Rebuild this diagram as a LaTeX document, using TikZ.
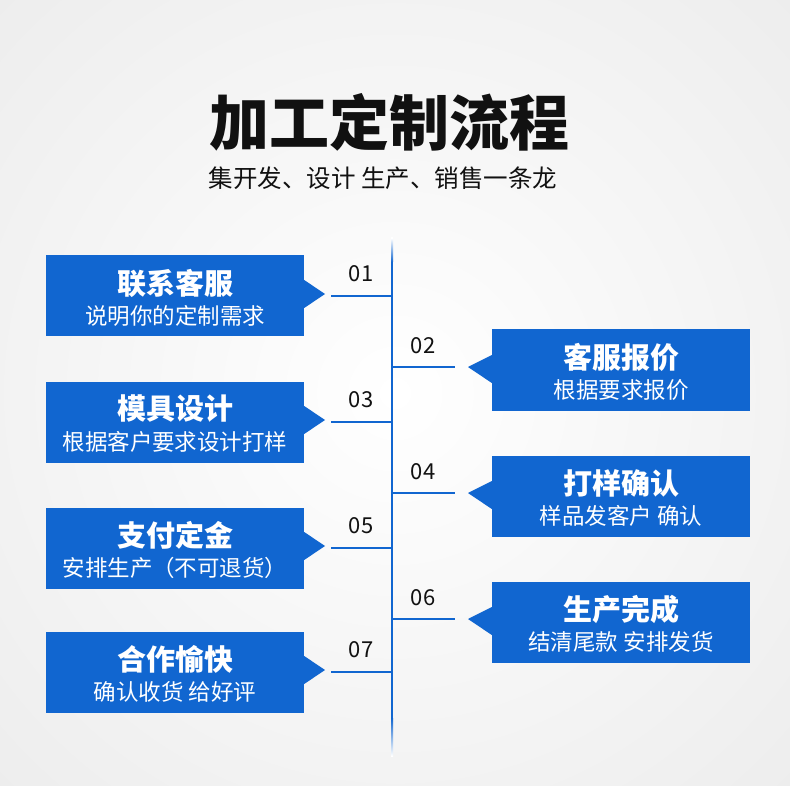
\documentclass[tikz,border=0pt]{standalone}
\usepackage{fontspec}
\setmainfont{Noto Sans CJK SC}
\newfontfamily\cjk{Noto Sans CJK SC}
\definecolor{flowblue}{HTML}{1166D0}
\definecolor{bgedge}{HTML}{ECECEC}
\definecolor{ink}{HTML}{111111}
\tikzset{
  stepbox/.style={fill=flowblue, minimum width=258pt, minimum height=81pt, inner sep=0pt, draw=none},
  boxtitle/.style={text=white, font=\cjk\bfseries\fontsize{29}{32}\selectfont, inner sep=0pt, anchor=center},
  boxsub/.style={text=white, font=\cjk\fontsize{22.5}{25}\selectfont, inner sep=0pt, anchor=center},
  numlabel/.style={text=ink, font=\cjk\fontsize{22}{24}\selectfont, inner sep=0pt, anchor=center},
  tick/.style={draw=flowblue, line width=2pt},
}
\begin{document}
\begin{tikzpicture}[x=1pt,y=-1pt]
\useasboundingbox (0,0) rectangle (790,786);
\shade[inner color=white, outer color=bgedge] (-200,-200) rectangle (990,986);
% titles
\node[text=ink, font=\cjk\bfseries\fontsize{60}{64}\selectfont, inner sep=0pt] (title) at (389,122) {加工定制流程};
\node[text=ink, font=\cjk\fontsize{24.5}{27}\selectfont, inner sep=0pt] (subtitle) at (383,178) {集开发、设计 生产、销售一条龙};
% spine
\shade[top color=white, bottom color=flowblue] (391,238) rectangle (393,262);
\fill[flowblue] (391,262) rectangle (393,718);
\shade[top color=flowblue, bottom color=white] (391,718) rectangle (393,756);
% left steps
\foreach \n/\y/\t/\s in {01/296/联系客服/说明你的定制需求, 03/422/模具设计/根据客户要求设计打样, 05/548/支付定金/安排生产（不可退货）, 07/672/合作愉快/确认收货 给好评}{
  \node[stepbox] (b\n) at (175,\y) {};
  \node[boxtitle] (bt\n) at ([yshift=13pt]b\n.center) {\t};
  \node[boxsub] (bs\n) at ([yshift=-20pt]b\n.center) {\s};
  \coordinate (tip\n) at (325,\y-2);
  \fill[flowblue] (b\n.east |- 0,\y-16) -- (tip\n) -- (b\n.east |- 0,\y+12) -- cycle;
  \coordinate (sp\n) at (392,\y);
  \coordinate (st\n) at (331,\y);
  \draw[tick] (st\n) -- (sp\n);
  \node[numlabel] (n\n) at (361,\y-22) {\n};
}
% right steps
\foreach \n/\y/\t/\s in {02/367/客服报价/根据要求报价, 04/493/打样确认/样品发客户 确认, 06/619/生产完成/结清尾款 安排发货}{
  \node[stepbox] (b\n) at (621,\y+3) {};
  \node[boxtitle] (bt\n) at ([yshift=13pt]b\n.center) {\t};
  \node[boxsub] (bs\n) at ([yshift=-20pt]b\n.center) {\s};
  \coordinate (tip\n) at (468,\y);
  \fill[flowblue] (b\n.west |- 0,\y-12) -- (tip\n) -- (b\n.west |- 0,\y+16) -- cycle;
  \coordinate (sp\n) at (392,\y);
  \coordinate (st\n) at (455,\y);
  \draw[tick] (sp\n) -- (st\n);
  \node[numlabel] (n\n) at (423,\y-21) {\n};
}
\end{tikzpicture}
\end{document}
